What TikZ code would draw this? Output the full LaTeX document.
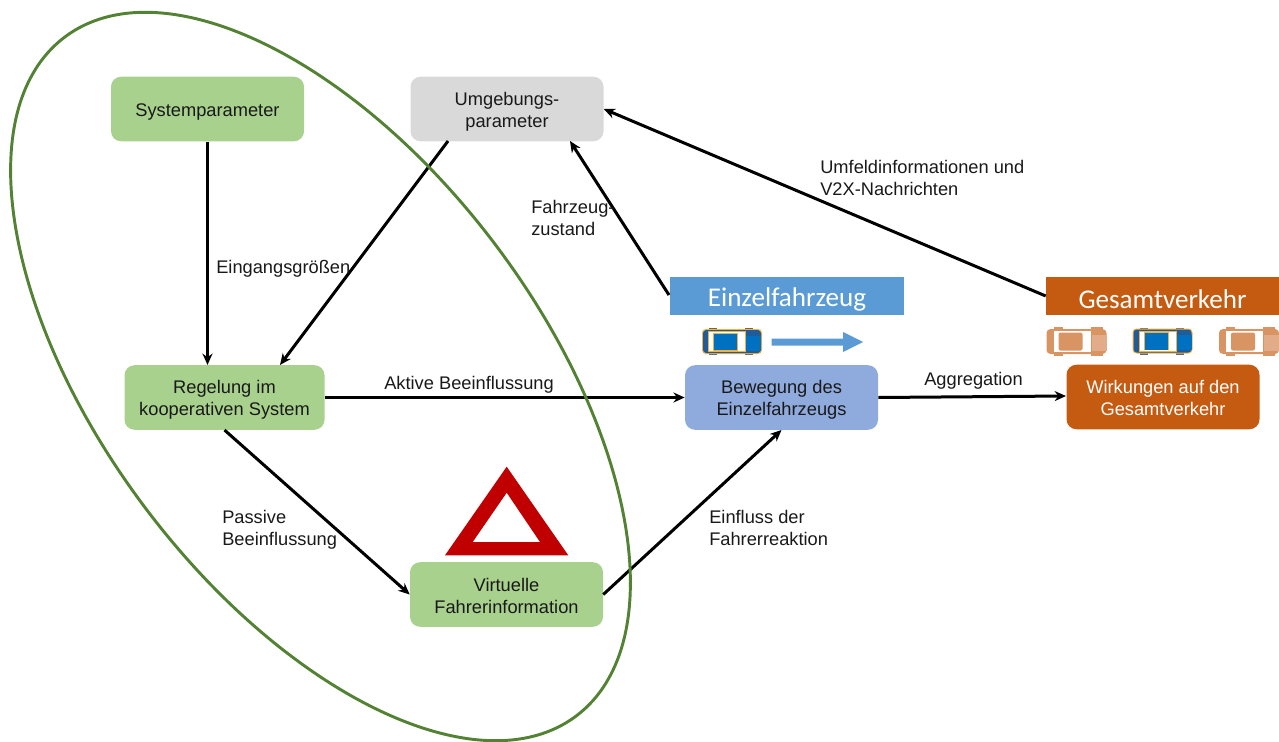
\documentclass[tikz,border=0pt]{standalone}
\usepackage{fontspec}
\setmainfont{Liberation Sans}
\newfontfamily\calib{Carlito}
\usetikzlibrary{shapes.geometric,arrows.meta}
\newcommand{\dnA}{\rule{0pt}{14pt}}
\newcommand{\dnB}{\rule{0pt}{12pt}}
\newcommand{\dnC}{\rule{0pt}{18.5pt}}
\definecolor{boxgreen}{HTML}{A9D18E}
\definecolor{boxgray}{HTML}{D9D9D9}
\definecolor{boxblue}{HTML}{8FAADC}
\definecolor{boxorange}{HTML}{C55A11}
\definecolor{bannerblue}{HTML}{5B9BD5}
\definecolor{ringgreen}{HTML}{548235}
\definecolor{warnred}{HTML}{C00000}
\definecolor{carblue}{HTML}{0070C0}
\definecolor{cardark}{HTML}{1F5C99}
\definecolor{caredge}{HTML}{F4B041}
\tikzset{
  x=0.75pt,y=-0.75pt,
  boxnode/.style={rounded corners=7.5pt,minimum width=144.75pt,minimum height=48.4pt,inner sep=0pt,align=center,font=\fontsize{13.7}{16.5}\selectfont,text=black!90},
  banner/.style={minimum width=175.5pt,minimum height=28pt,inner sep=0pt,text=white,font=\calib\fontsize{20.3}{24}\selectfont},
  lab/.style={anchor=west,inner sep=0pt,align=left,font=\fontsize{13.7}{16.5}\selectfont,text=black!90},
  conn/.style={draw=black,line width=2.25pt,-{Stealth[length=8.5pt,width=7.5pt]}},
  car/.pic={
    \fill[black!60] (-23,-13.5) rectangle (-15,13.5);
    \fill[black!60] (13,-13.5) rectangle (21,13.5);
    \fill[caredge,rounded corners=3pt] (-30,-12.5) rectangle (30,12.5);
    \fill[cardark,rounded corners=2.5pt] (-29,-11.5) rectangle (29,11.5);
    \fill[carblue] (14,-6) rectangle (29,9);
    \fill[caredge] (-24,-10.5) rectangle (14,10.5);
    \fill[white] (-23,-9.5) rectangle (13,9.5);
    \fill[caredge] (-18.7,-8.7) rectangle (6,9.2);
    \fill[carblue] (-18,-8) rectangle (5.3,8.5);
  },
  fadedcar/.pic={
    \fill[boxorange!65] (-23,-14.5) rectangle (-14,14.5);
    \fill[boxorange!65] (14,-14.5) rectangle (26,14.5);
    \fill[boxorange!65,rounded corners=3pt] (-30,-12.5) rectangle (30,12.5);
    \fill[boxorange!50] (15,-7) rectangle (30,9);
    \fill[white] (-23,-10.5) rectangle (14,10.5);
    \fill[boxorange!65,rounded corners=1.5pt] (-18,-9) rectangle (6,9);
  }
}
\begin{document}
\begin{tikzpicture}
\useasboundingbox (0,0) rectangle (1279,742);
% boxes
\node[boxnode,fill=boxgreen] (sys) at (207.5,109) {\dnA Systemparameter};
\node[boxnode,fill=boxgray] (umg) at (507,109) {\dnA Umgebungs-\\parameter};
\node[boxnode,fill=boxgreen,minimum width=150pt] (reg) at (224.5,397.5) {\dnA Regelung im\\kooperativen System};
\node[boxnode,fill=boxblue] (bew) at (781.5,397.5) {\dnA Bewegung des\\Einzelfahrzeugs};
\node[boxnode,fill=boxorange,text=white] (wirk) at (1163,397) {\dnB Wirkungen auf den\\Gesamtverkehr};
\node[boxnode,fill=boxgreen] (virt) at (506.5,594.5) {\dnB Virtuelle\\Fahrerinformation};
% banners
\node[banner,fill=bannerblue] (einz) at (787,296) {\dnC Einzelfahrzeug};
\node[banner,fill=boxorange,minimum width=174.75pt] (ges) at (1162.5,296) {\dnC Gesamtverkehr};
% cars
\pic at (732,341.5) {car};
\pic at (1076.5,341.5) {fadedcar};
\pic at (1162.5,341) {car};
\pic at (1249,341.5) {fadedcar};
\fill[bannerblue] (771.5,338.5) -- (843,338.5) -- (843,332) -- (863,342) -- (843,352) -- (843,345.5) -- (771.5,345.5) -- cycle;
% triangle
\fill[warnred,even odd rule] (506.7,466.7) -- (445,555.3) -- (568.3,555.3) -- cycle
  (506.7,492.7) -- (472.7,542) -- (540,542) -- cycle;
% connector ends
\coordinate (sysout) at (sys.south);
\coordinate (regin) at (sys.south |- reg.north);
\coordinate (umgout) at (448,141);
\coordinate (regin2) at (280,365);
\coordinate (umgin) at (570,141);
\coordinate (einzout) at (669,295);
\coordinate (gesout) at (ges.west);
\coordinate (wirkin) at (1066,396);
\draw[conn] (sysout) -- (regin);
\draw[conn] (umgout) -- (regin2);
\draw[conn] (einzout) -- (umgin);
\draw[conn] (gesout) -- (umg.east);
\draw[conn] (reg.east) -- (bew.west);
\draw[conn] (bew.east) -- (wirkin);
\draw[conn] (reg.south) -- (virt.west);
\draw[conn] (virt.east) -- (bew.south);
% labels
\node[lab] (l1) at (216,269) {Eingangsgrößen};
\node[lab] (l2) at (531,218) {Fahrzeug-\\zustand};
\node[lab] (l3) at (820,178) {Umfeldinformationen und\\V2X-Nachrichten};
\node[lab] (l4) at (384,385) {Aktive Beeinflussung};
\node[lab] (l5) at (924,381) {Aggregation};
\node[lab] (l6) at (222,529.5) {Passive\\Beeinflussung};
\node[lab] (l7) at (709,528) {Einfluss der\\Fahrerreaktion};
% ring
\begin{scope}
\clip (0,0) rectangle (1279,742);
\node[draw=ringgreen,line width=2.2pt,ellipse,inner sep=0pt,minimum width=637.5pt,minimum height=328.5pt,rotate=-53] (ring) at (320.5,376.5) {};
\end{scope}
\end{tikzpicture}
\end{document}
